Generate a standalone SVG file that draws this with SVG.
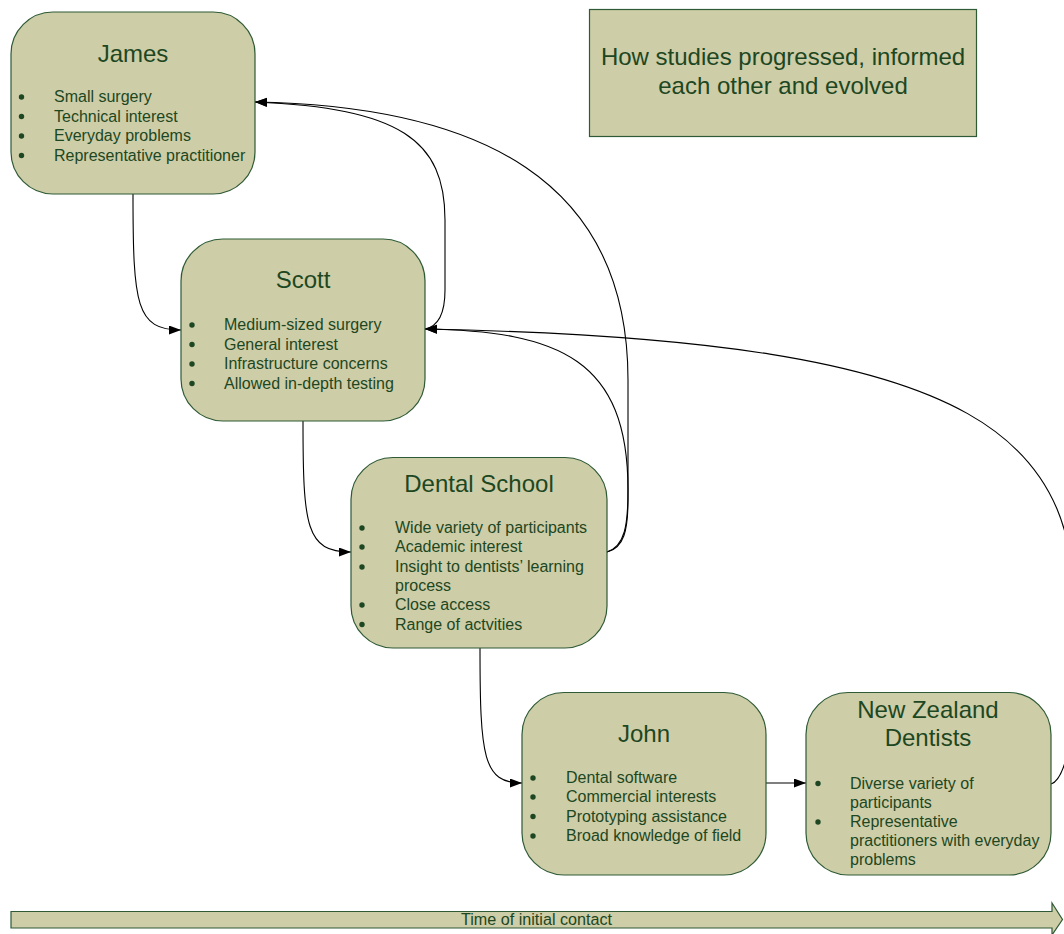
<svg xmlns="http://www.w3.org/2000/svg" width="1064" height="934" viewBox="0 0 1064 934">
  <style>
    .box { fill: #cdcda7; stroke: #2e5a35; stroke-width: 1.2; }
    .title { font-family: "Liberation Sans", Arial, sans-serif; font-size: 24px; fill: #1d4722; text-anchor: middle; }
    .item { font-family: "Liberation Sans", Arial, sans-serif; font-size: 16px; fill: #1d4722; }
    .dot { fill: #1d4722; }
    .conn { fill: none; stroke: #000; stroke-width: 1.1; }
    .axis { font-family: "Liberation Sans", Arial, sans-serif; font-size: 16px; fill: #1d4722; text-anchor: middle; }
  </style>
  <defs>
    <marker id="arrow" markerUnits="userSpaceOnUse" markerWidth="13" markerHeight="10" refX="12" refY="4.5" orient="auto">
      <path d="M0,0 L12,4.5 L0,9 z" fill="#000"/>
    </marker>
  </defs>

  <rect width="1064" height="934" fill="#fff"/>

  <!-- connectors -->
  <g id="connectors">
    <path class="conn" marker-end="url(#arrow)" d="M133,194 C133,305 136,330 181,330"/>
    <path class="conn" marker-end="url(#arrow)" d="M303,421 C303,527 306,552 351,552"/>
    <path class="conn" marker-end="url(#arrow)" d="M480,648 C480,757 483,783 522,783"/>
    <path class="conn" marker-end="url(#arrow)" d="M766,783 L806,783"/>
    <path class="conn" marker-end="url(#arrow)" d="M425,329 C440,326 445,310 445,290 L445,220 C445,140 400,108 255,102"/>
    <path class="conn" marker-end="url(#arrow)" d="M607,552 C624,548 628,530 628,500 L628,380 C628,180 480,106 255,102"/>
    <path class="conn" marker-end="url(#arrow)" d="M607,552 C625,546 628,525 628,490 C628,360 560,331 425,329"/>
    <path class="conn" marker-end="url(#arrow)" d="M1051,784 C1070,778 1078,700 1076,640 C1080,440 1000,340 425,329"/>
  </g>

  <!-- heading -->
  <g id="heading">
    <rect class="box" x="589.5" y="9.5" width="387" height="127"/>
    <text class="title" x="783" y="65">How studies progressed, informed</text>
    <text class="title" x="783" y="94">each other and evolved</text>
  </g>

  <g id="james">
    <rect class="box" x="11" y="12" width="244" height="182" rx="42"/>
    <text class="title" x="133" y="62">James</text>
    <circle class="dot" cx="21.5" cy="97" r="2.7"/>
    <circle class="dot" cx="21.5" cy="116.5" r="2.7"/>
    <circle class="dot" cx="21.5" cy="136" r="2.7"/>
    <circle class="dot" cx="21.5" cy="155.5" r="2.7"/>
    <text class="item" x="54" y="102">Small surgery</text>
    <text class="item" x="54" y="121.5">Technical interest</text>
    <text class="item" x="54" y="141">Everyday problems</text>
    <text class="item" x="54" y="160.5">Representative practitioner</text>
  </g>

  <g id="scott">
    <rect class="box" x="181" y="239" width="244" height="182" rx="42"/>
    <text class="title" x="303" y="288">Scott</text>
    <circle class="dot" cx="192" cy="325" r="2.7"/>
    <circle class="dot" cx="192" cy="344.5" r="2.7"/>
    <circle class="dot" cx="192" cy="364" r="2.7"/>
    <circle class="dot" cx="192" cy="383.5" r="2.7"/>
    <text class="item" x="224" y="330">Medium-sized surgery</text>
    <text class="item" x="224" y="349.5">General interest</text>
    <text class="item" x="224" y="369">Infrastructure concerns</text>
    <text class="item" x="224" y="388.5">Allowed in-depth testing</text>
  </g>

  <g id="dental-school">
    <rect class="box" x="351" y="457.5" width="256" height="190.5" rx="42"/>
    <text class="title" x="479" y="492">Dental School</text>
    <circle class="dot" cx="362" cy="528" r="2.7"/>
    <circle class="dot" cx="362" cy="547" r="2.7"/>
    <circle class="dot" cx="362" cy="567" r="2.7"/>
    <circle class="dot" cx="362" cy="605" r="2.7"/>
    <circle class="dot" cx="362" cy="624.5" r="2.7"/>
    <text class="item" x="395" y="533">Wide variety of participants</text>
    <text class="item" x="395" y="552">Academic interest</text>
    <text class="item" x="395" y="572">Insight to dentists’ learning</text>
    <text class="item" x="395" y="591">process</text>
    <text class="item" x="395" y="610">Close access</text>
    <text class="item" x="395" y="629.5">Range of actvities</text>
  </g>

  <g id="john">
    <rect class="box" x="522" y="692.5" width="244" height="182.5" rx="42"/>
    <text class="title" x="644" y="742">John</text>
    <circle class="dot" cx="533" cy="778" r="2.7"/>
    <circle class="dot" cx="533" cy="797" r="2.7"/>
    <circle class="dot" cx="533" cy="816.5" r="2.7"/>
    <circle class="dot" cx="533" cy="836" r="2.7"/>
    <text class="item" x="566" y="783">Dental software</text>
    <text class="item" x="566" y="802">Commercial interests</text>
    <text class="item" x="566" y="821.5">Prototyping assistance</text>
    <text class="item" x="566" y="841">Broad knowledge of field</text>
  </g>

  <g id="new-zealand-dentists">
    <rect class="box" x="806" y="692.5" width="245" height="182.5" rx="42"/>
    <text class="title" x="928" y="718">New Zealand</text>
    <text class="title" x="928" y="746">Dentists</text>
    <circle class="dot" cx="818" cy="783.5" r="2.7"/>
    <circle class="dot" cx="818" cy="822" r="2.7"/>
    <text class="item" x="850" y="788.5">Diverse variety of</text>
    <text class="item" x="850" y="807.5">participants</text>
    <text class="item" x="850" y="827">Representative</text>
    <text class="item" x="850" y="846">practitioners with everyday</text>
    <text class="item" x="850" y="865">problems</text>
  </g>

  <!-- time axis -->
  <g id="time-axis">
    <path class="box" d="M11,911.5 L1052,911.5 L1052,903 L1062.5,919.5 L1052,935 L1052,928 L11,928 Z"/>
    <text class="axis" x="536.5" y="924.5" textLength="151" lengthAdjust="spacingAndGlyphs">Time of initial contact</text>
  </g>
</svg>
